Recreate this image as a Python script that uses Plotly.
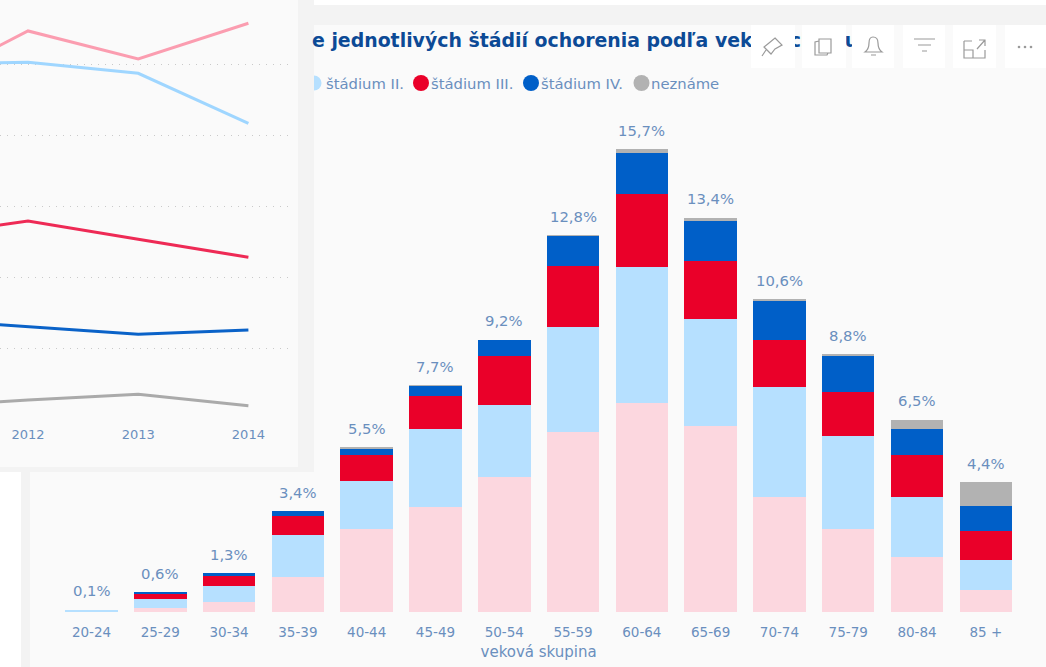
import plotly.graph_objects as go

W, H = 1046, 667

# ---- data -----------------------------------------------------------------
age_groups = ["20-24", "25-29", "30-34", "35-39", "40-44", "45-49", "50-54",
              "55-59", "60-64", "65-69", "70-74", "75-79", "80-84", "85 +"]
stage_1 = [0.02, 0.15, 0.34, 1.19, 2.81, 3.56, 4.59, 6.10, 7.08, 6.31, 3.90, 2.83, 1.86, 0.76]
stage_2 = [0.06, 0.29, 0.55, 1.42, 1.63, 2.64, 2.43, 3.57, 4.62, 3.61, 3.73, 3.14, 2.05, 0.99]
stage_3 = [0.00, 0.20, 0.33, 0.65, 0.89, 1.12, 1.66, 2.07, 2.47, 1.98, 1.60, 1.49, 1.42, 1.01]
stage_4 = [0.00, 0.01, 0.09, 0.15, 0.22, 0.35, 0.55, 1.01, 1.40, 1.34, 1.32, 1.22, 0.88, 0.85]
unknown = [0.00, 0.00, 0.00, 0.00, 0.01, 0.01, 0.00, 0.01, 0.12, 0.13, 0.03, 0.05, 0.30, 0.79]
total_labels = ["0,1%", "0,6%", "1,3%", "3,4%", "5,5%", "7,7%", "9,2%",
                "12,8%", "15,7%", "13,4%", "10,6%", "8,8%", "6,5%", "4,4%"]

years = [2011, 2012, 2013, 2014]
line_stage_1 = [23.35, 27.36, 25.39, 27.90]
line_stage_2 = [25.07, 25.15, 24.38, 20.86]
line_stage_3 = [12.87, 13.99, 12.71, 11.44]
line_stage_4 = [7.10, 6.56, 6.03, 6.33]
line_unknown = [0.91, 1.41, 1.81, 1.01]

title_text = "e jednotlivých štádií ochorenia podľa vekových skupín"
legend_labels = ["štádium II.", "štádium III.", "štádium IV.", "neznáme"]
x_title = "veková skupina"

# ---- style ----------------------------------------------------------------
C_PINK, C_LBLUE, C_RED, C_BLUE, C_GRAY = "#fcd7df", "#b6e0ff", "#ea0029", "#005fc8", "#b2b2b2"
L_PINK, L_LBLUE, L_RED, L_BLUE, L_GRAY = "#fb9db0", "#9fd6ff", "#ee2a55", "#0a62c8", "#aaaaaa"
TXT = "#6a8fbe"
NAVY = "#0c4a96"
PANEL = "#fafafa"
EDGE = "#f3f3f3"
FONT = "DejaVu Sans"

fig = go.Figure()

# Pixel-coordinate helper axes (page chrome and title only): first subplot
fig.add_trace(go.Scatter(x=[312], y=[42], mode="text", text=[title_text],
                         textposition="middle right", cliponaxis=False,
                         textfont=dict(family=FONT, size=18.9, color=NAVY, weight="bold"),
                         xaxis="x", yaxis="y", hoverinfo="skip", showlegend=False))

# Stacked bars
for name, vals, col in [("štádium I.", stage_1, C_PINK), ("štádium II.", stage_2, C_LBLUE),
                        ("štádium III.", stage_3, C_RED), ("štádium IV.", stage_4, C_BLUE),
                        ("neznáme", unknown, C_GRAY)]:
    fig.add_trace(go.Bar(x=age_groups, y=vals, name=name, marker=dict(color=col, line_width=0),
                         xaxis="x2", yaxis="y2", showlegend=False))

# Lines of the overlaid panel
for name, vals, col in [("štádium I.", line_stage_1, L_PINK), ("štádium II.", line_stage_2, L_LBLUE),
                        ("štádium III.", line_stage_3, L_RED), ("štádium IV.", line_stage_4, L_BLUE),
                        ("neznáme", line_unknown, L_GRAY)]:
    fig.add_trace(go.Scatter(x=years, y=vals, name=name, mode="lines",
                             line=dict(color=col, width=3), xaxis="x3", yaxis="y3", showlegend=False))

totals = [a + b + c + d + e for a, b, c, d, e in zip(stage_1, stage_2, stage_3, stage_4, unknown)]
annotations = [dict(x=g, y=t, xref="x2", yref="y2", text=l, showarrow=False, yanchor="middle", yshift=19,
                    font=dict(family=FONT, size=14.8, color=TXT))
               for g, t, l in zip(age_groups, totals, total_labels)]
for lx, lab in zip([324, 429, 539, 649], legend_labels):
    annotations.append(dict(x=lx, y=83, xref="x", yref="y", text=lab, showarrow=False, xanchor="left",
                            yanchor="middle", font=dict(family=FONT, size=14.8, color=TXT)))


def rect(x0, y0, x1, y1, col, layer="below"):
    return dict(type="rect", xref="x", yref="y", x0=x0, y0=y0, x1=x1, y1=y1, layer=layer,
                fillcolor=col, line_width=0)


def circ(cx, cy, r, col):
    return dict(type="circle", xref="x", yref="y", x0=cx - r, x1=cx + r, y0=cy - r, y1=cy + r,
                layer="below", fillcolor=col, line_width=0)


def icon(path):
    return dict(type="path", xref="x", yref="y", path=path, layer="above", fillcolor="rgba(0,0,0,0)",
                line=dict(color="#9a9a9a", width=1.2))


shapes = [
    rect(21, 5, W, H, EDGE),
    rect(30, 25, W, H, PANEL),
    circ(314, 83, 7.5, C_LBLUE), circ(421, 83, 8, C_RED), circ(531, 83, 8, C_BLUE), circ(641.5, 83, 8, C_GRAY),
    rect(0, 0, 314, 472, EDGE),
    rect(0, 0, 298, 467, PANEL),
]
for x0, x1 in [(751, 795), (802, 846), (852, 894), (903, 945), (953, 996), (1005, 1046)]:
    shapes.append(rect(x0, 25, x1, 68, "#ffffff", "above"))
shapes += [
    # pin
    icon("M 775 38 L 782 45 L 775 49 L 771 54 L 764 47 L 769 43 Z M 766 50 L 762 56"),
    # copy
    icon("M 819 39 L 831 39 L 831 53 L 819 53 Z M 819 41 L 815 42 L 815 55 L 827 55 L 828 53"),
    # bell
    icon("M 865 52 Q 869 49 869 43 Q 869 37 873 37 Q 878 37 878 43 Q 878 49 882 52 Z M 871 55 L 876 55"),
    # filter
    icon("M 914 39 L 935 39 M 918 45 L 931 45 M 922 51 L 927 51"),
    # expand
    icon("M 964 41 L 972 41 M 964 41 L 964 58 L 985 58 L 985 50 M 964 50 L 973 50 L 973 58 M 977 49 L 985 40 "
         "M 979 40 L 985 40 L 985 46"),
]
for cx in [1019, 1025, 1031]:
    shapes.append(dict(type="circle", xref="x", yref="y", x0=cx - 1.3, x1=cx + 1.3, y0=45.7, y1=48.3,
                       layer="above", fillcolor="#9a9a9a", line_width=0))

px_per_pct = 29.5
bar_top, bar_base = 120, 612
grid_px = 71.1 / 5
line_top, line_base = 15, 420
yr_px = 110.2

fig.update_layout(
    width=W, height=H, autosize=False, margin=dict(l=0, r=0, t=0, b=0),
    paper_bgcolor="#ffffff", plot_bgcolor="rgba(0,0,0,0)", barmode="stack", bargap=0.237,
    showlegend=False, annotations=annotations, shapes=shapes,
    font=dict(family=FONT, color=TXT),
    xaxis=dict(domain=[0, 1], range=[0, W], visible=False, fixedrange=True),
    yaxis=dict(domain=[0, 1], range=[H, 0], visible=False, fixedrange=True),
    xaxis2=dict(domain=[57.1 / W, 1020.2 / W], anchor="y2", type="category", showgrid=False, ticks="",
                showline=False, tickfont=dict(family=FONT, size=13.5, color=TXT), tickangle=0,
                ticklabelstandoff=10,
                title=dict(text=x_title, font=dict(family=FONT, size=15, color=TXT), standoff=7)),
    yaxis2=dict(domain=[(H - bar_base) / H, (H - bar_top) / H], anchor="x2",
                range=[0, (bar_base - bar_top) / px_per_pct], visible=False),
    xaxis3=dict(domain=[0, 290 / W], anchor="y3", range=[2012 - 28 / yr_px, 2012 + 262 / yr_px],
                tickvals=[2012, 2013, 2014], ticktext=["2012", "2013", "2014"], showgrid=False, ticks="",
                showline=False, zeroline=False, tickfont=dict(family=FONT, size=13, color=TXT),
                ticklabelstandoff=5),
    yaxis3=dict(domain=[(H - line_base) / H, (H - line_top) / H], anchor="x3",
                range=[0, (line_base - line_top) / grid_px], tick0=0, dtick=5, showticklabels=False,
                ticks="", showline=False, zeroline=False, showgrid=True, gridcolor="#c9c9c9", gridwidth=1.3,
                griddash="1px,6px"),
)

fig.write_html("out.html", config={"displayModeBar": False},
               post_script="document.body.style.margin='0';document.body.style.overflow='hidden';")
